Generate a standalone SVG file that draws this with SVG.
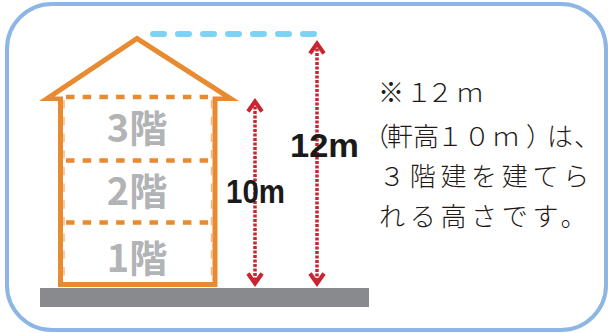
<svg xmlns="http://www.w3.org/2000/svg" xmlns:xlink="http://www.w3.org/1999/xlink" width="608" height="333" viewBox="0 0 608 333">
  <style>
    .orange { fill: none; stroke: #e88a30; }
    .floorline { fill: none; stroke: #e88a30; stroke-width: 4.5; stroke-dasharray: 8.5 8.2; }
    .floorlabel { font-family: "Noto Sans CJK JP", "Noto Sans", sans-serif; font-weight: 700; font-size: 38px; fill: #b2b3b5; text-anchor: middle; }
    .shaft { stroke: #c9242f; stroke-width: 3.5; stroke-dasharray: 3 1.5; fill: none; }
    .head { fill: none; stroke: #c9242f; stroke-width: 4; stroke-linejoin: miter; }
    .dim { font-family: "Liberation Sans", Arial, sans-serif; font-weight: 700; font-size: 34px; fill: #1a1a1a; }
    .note { font-family: "Noto Sans CJK JP", "Noto Sans", sans-serif; font-weight: 300; font-size: 26px; fill: #231815; }
  </style>
  <defs>
    <!-- chevron arrowhead pointing up, apex at the origin -->
    <path id="chevron" d="M-7,10 L0,0 L7,10"/>
  </defs>

  <rect width="608" height="333" fill="#ffffff"/>

  <!-- rounded panel frame -->
  <g id="frame">
    <rect x="7" y="4" width="599" height="326" rx="45" ry="45" fill="#ffffff" stroke="#8db5e5" stroke-width="4"/>
  </g>

  <!-- ground strip -->
  <g id="ground">
    <rect x="40" y="288" width="329" height="19" fill="#898a8d"/>
  </g>

  <!-- house outline -->
  <g id="house">
    <polygon fill="#e88a30" points="39,101 137,35.5 239,101 213,101 213,96.5 222.7,96.5 137,41.5 54.7,96.5 63,96.5 63,101"/>
    <path class="orange" stroke-width="5" stroke-linejoin="miter" d="M60.5,97 V284.5 H215 V97"/>
    <line class="orange" stroke-width="1.5" stroke-dasharray="8.5 8.2" opacity="0.6" x1="64" y1="100" x2="64" y2="282"/>
    <line class="orange" stroke-width="1.5" stroke-dasharray="8.5 8.2" opacity="0.6" x1="211.5" y1="100" x2="211.5" y2="282"/>
  </g>

  <!-- floor divisions and labels -->
  <g id="floor3">
    <line class="floorline" x1="66" y1="97" x2="212" y2="97"/>
    <text class="floorlabel" x="137" y="142">3階</text>
  </g>
  <g id="floor2">
    <line class="floorline" x1="66" y1="160.5" x2="212" y2="160.5"/>
    <text class="floorlabel" x="137" y="205">2階</text>
  </g>
  <g id="floor1">
    <line class="floorline" x1="66" y1="222.5" x2="212" y2="222.5"/>
    <text class="floorlabel" x="137" y="272">1階</text>
  </g>

  <!-- height limit line -->
  <g id="limit">
    <line x1="153" y1="34" x2="314" y2="34" stroke="#7dd3f4" stroke-width="6" stroke-linecap="round" stroke-dasharray="11 14"/>
  </g>

  <!-- dimension arrows -->
  <g id="connectors">
    <line class="shaft" x1="255" y1="102" x2="255" y2="284"/>
    <use xlink:href="#chevron" class="head" transform="translate(255,101.5)"/>
    <use xlink:href="#chevron" class="head" transform="translate(255,283.5) rotate(180)"/>
    <line class="shaft" x1="317" y1="44" x2="317" y2="284"/>
    <use xlink:href="#chevron" class="head" transform="translate(317,43.5)"/>
    <use xlink:href="#chevron" class="head" transform="translate(317,283.5) rotate(180)"/>
  </g>

  <g id="label-10m">
    <text class="dim" x="226" y="203" textLength="59" lengthAdjust="spacingAndGlyphs">10m</text>
  </g>
  <g id="label-12m">
    <text class="dim" x="290" y="157" textLength="69" lengthAdjust="spacingAndGlyphs">12m</text>
  </g>

  <!-- explanatory note -->
  <g id="note">
    <text class="note" x="378 406 427 457" y="102">※１２ｍ</text>
    <text class="note" x="363 387 413 437 464 493 526 547 574" y="146">（軒高１０ｍ）は、</text>
    <text class="note" x="379" y="186" letter-spacing="4.7">３階建を建てら</text>
    <text class="note" x="379" y="226" letter-spacing="4.7">れる高さです。</text>
  </g>
</svg>
